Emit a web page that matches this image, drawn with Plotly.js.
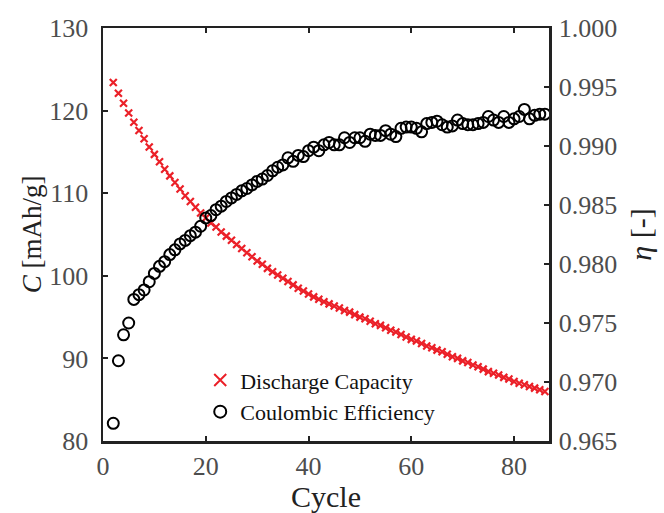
<!DOCTYPE html>
<html>
<head>
<meta charset="utf-8">
<script src="https://cdn.plot.ly/plotly-3.0.1.min.js"></script>
<style>html,body{margin:0;padding:0;background:#fff;}#chart{width:664px;height:513px;}</style>
</head>
<body>
<div id="chart"></div>
<script>
const cycles = [2,3,4,5,6,7,8,9,10,11,12,13,14,15,16,17,18,19,20,21,22,23,24,25,26,27,28,29,30,31,32,33,34,35,36,37,38,39,40,41,42,43,44,45,46,47,48,49,50,51,52,53,54,55,56,57,58,59,60,61,62,63,64,65,66,67,68,69,70,71,72,73,74,75,76,77,78,79,80,81,82,83,84,85,86];

const dischargeCapacity = [123.4,122.1,120.9,119.7,118.6,117.6,116.6,115.6,114.7,113.8,112.9,112.1,111.3,110.5,109.7,109.0,108.3,107.6,107.0,106.4,105.9,105.3,104.8,104.3,103.8,103.3,102.8,102.3,101.8,101.4,100.9,100.5,100.1,99.7,99.3,98.9,98.5,98.15,97.8,97.45,97.15,96.85,96.6,96.35,96.1,95.8,95.6,95.3,95.0,94.8,94.5,94.2,94.0,93.7,93.4,93.2,92.9,92.6,92.3,92.1,91.8,91.5,91.3,91.0,90.8,90.5,90.2,90.0,89.7,89.5,89.2,89.0,88.7,88.4,88.2,88.0,87.7,87.5,87.2,87.0,86.8,86.6,86.4,86.2,86.0];

const coulombicEfficiency = [0.9665,0.9718,0.9740,0.9750,0.9770,0.9774,0.9778,0.9785,0.9792,0.9798,0.9802,0.9808,0.9812,0.9817,0.9820,0.9824,0.9827,0.9832,0.9839,0.9841,0.9846,0.9849,0.9853,0.9856,0.9859,0.9862,0.9864,0.9867,0.9870,0.9872,0.9875,0.9879,0.9882,0.9884,0.9890,0.9887,0.9892,0.9891,0.9896,0.9899,0.9896,0.9901,0.9903,0.9901,0.9901,0.9907,0.9903,0.9907,0.9907,0.9904,0.9910,0.9909,0.9909,0.9913,0.9910,0.9908,0.9915,0.9916,0.9916,0.9915,0.9912,0.9919,0.9920,0.9921,0.9918,0.9916,0.9917,0.9922,0.9919,0.9918,0.9918,0.9919,0.9920,0.9925,0.9922,0.9920,0.9925,0.9920,0.9923,0.9925,0.9931,0.9923,0.9926,0.9927,0.9927];

const xTicks = [0,20,40,60,80];
const yLeftTicks = [80,90,100,110,120,130];
const yRightTicks = [0.965,0.970,0.975,0.980,0.985,0.990,0.995,1.000];
const yRightTickText = ['0.965','0.970','0.975','0.980','0.985','0.990','0.995','1.000'];
const seriesNames = ['Discharge Capacity','Coulombic Efficiency'];

const serif = 'Liberation Serif, Times New Roman, serif';
const tickFont = {family:serif, size:26, color:'#4d4d4d'};
const titleFont = {family:serif, size:30, color:'#222'};

const traces = [
  {x: cycles, y: dischargeCapacity, name: seriesNames[0], type:'scatter', mode:'markers',
   marker:{symbol:'x-thin', size:7, line:{color:'rgb(235,32,40)', width:2.2}, color:'rgb(235,32,40)'},
   xaxis:'x', yaxis:'y', cliponaxis:false},
  {x: cycles, y: coulombicEfficiency, name: seriesNames[1], type:'scatter', mode:'markers',
   marker:{symbol:'circle-open', size:11, line:{color:'#000', width:2}, color:'#000'},
   xaxis:'x', yaxis:'y2', cliponaxis:false}
];

const layout = {
  width:664, height:513,
  margin:{l:103, r:115, t:28, b:72},
  paper_bgcolor:'#fff', plot_bgcolor:'#fff',
  showlegend:true,
  legend:{x:0.218, y:0.198, xanchor:'left', yanchor:'top', bgcolor:'rgba(0,0,0,0)',
          font:{family:serif, size:22, color:'#111'},
          tracegroupgap:0, itemsizing:'constant'},
  xaxis:{range:[0,86.8], tickvals:xTicks, ticks:'inside', ticklen:5, tickwidth:2, tickcolor:'#222',
         showline:true, linecolor:'#222', linewidth:2.5, mirror:'ticks', showgrid:false, zeroline:false,
         tickfont:tickFont, title:{text:'Cycle', font:titleFont, standoff:4}},
  yaxis:{range:[80,130], tickvals:yLeftTicks, ticks:'inside', ticklen:5, tickwidth:2, tickcolor:'#222',
         showline:true, linecolor:'#222', linewidth:2.5, mirror:true, showgrid:false, zeroline:false,
         ticklabelstandoff:7,
         tickfont:tickFont, title:{text:'<i>C</i> [mAh/g]', font:{family:serif, size:27, color:'#222'}, standoff:0}},
  yaxis2:{range:[0.965,1.000], overlaying:'y', side:'right', tickvals:yRightTicks, ticktext:yRightTickText,
          ticks:'inside', ticklen:5, tickwidth:2, tickcolor:'#222',
          showline:true, linecolor:'#222', linewidth:2.5, showgrid:false, zeroline:false,
          ticklabelstandoff:2,
          tickfont:tickFont, title:{text:'<i>η</i> [-]', font:titleFont, standoff:14}}
};

Plotly.newPlot('chart', traces, layout, {displayModeBar:false, staticPlot:true});
</script>
</body>
</html>
